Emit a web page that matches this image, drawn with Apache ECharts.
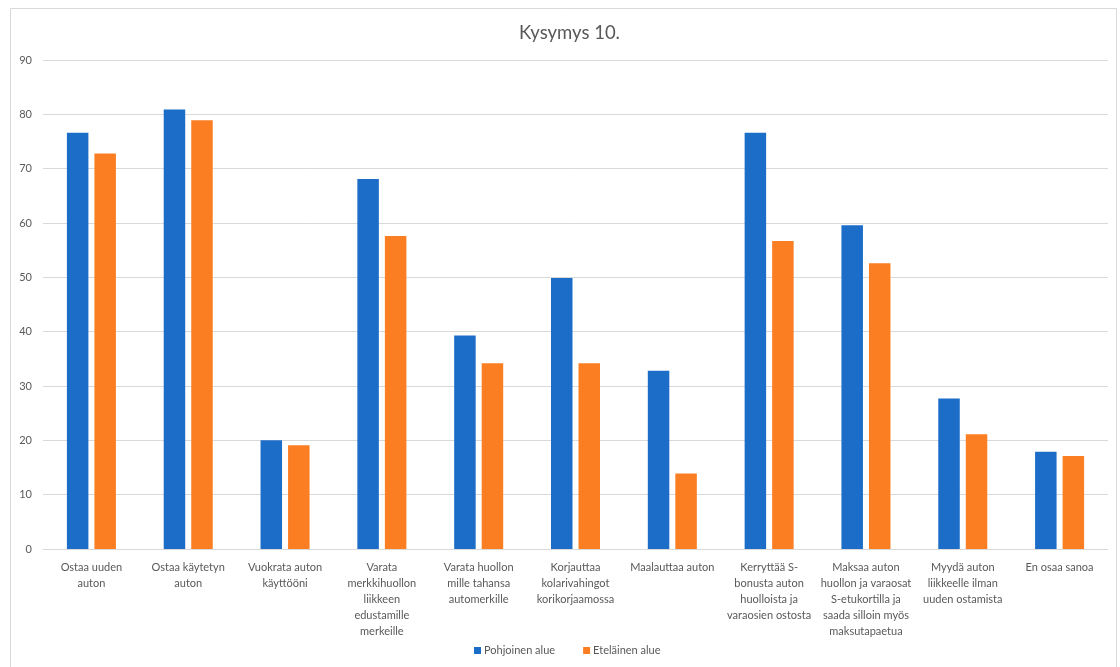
<!DOCTYPE html>
<html>
<head>
<meta charset="utf-8">
<script src="https://cdn.jsdelivr.net/npm/echarts@6/dist/echarts.min.js"></script>
<style>
  html, body { margin: 0; padding: 0; background: #ffffff; }
  #chart { width: 1120px; height: 667px; }
</style>
</head>
<body>
<div id="chart"></div>
<script>
// Answer categories (line breaks as printed under the axis)
const categories = [
  'Ostaa uuden\nauton',
  'Ostaa käytetyn\nauton',
  'Vuokrata auton\nkäyttööni',
  'Varata\nmerkkihuollon\nliikkeen\nedustamille\nmerkeille',
  'Varata huollon\nmille tahansa\nautomerkille',
  'Korjauttaa\nkolarivahingot\nkorikorjaamossa',
  'Maalauttaa auton',
  'Kerryttää S-\nbonusta auton\nhuolloista ja\nvaraosien ostosta',
  'Maksaa auton\nhuollon ja varaosat\nS-etukortilla ja\nsaada silloin myös\nmaksutapaetua',
  'Myydä auton\nliikkeelle ilman\nuuden ostamista',
  'En osaa sanoa'
];

const seriesNames = ['Pohjoinen alue', 'Eteläinen alue'];

// Share of respondents (%)
const pohjoinen = [76.6, 80.9, 20.0, 68.1, 39.3, 49.9, 32.8, 76.6, 59.6, 27.7, 17.9];
const etelainen = [72.8, 78.9, 19.1, 57.6, 34.2, 34.2, 13.9, 56.7, 52.6, 21.1, 17.1];

const yTicks = { min: 0, max: 90, interval: 10 };

const FONT = 'Lato, "Open Sans", sans-serif';
const TEXT = '#595959';
const LINE = '#d9d9d9';

const chart = echarts.init(document.getElementById('chart'), null, { renderer: 'canvas' });

chart.setOption({
  backgroundColor: '#ffffff',
  animation: false,
  color: ['#1c6dc8', '#fc7e22'],
  graphic: [{
    type: 'rect',
    shape: { x: 10.5, y: 8.5, width: 1106, height: 700 },
    style: { fill: 'none', stroke: LINE, lineWidth: 1 },
    silent: true,
    z: -1
  }],
  title: {
    text: 'Kysymys 10.',
    left: 514,
    top: 19,
    textStyle: { fontFamily: FONT, fontSize: 18.5, fontWeight: 'normal', color: TEXT }
  },
  legend: {
    data: seriesNames,
    bottom: 6,
    left: 469,
    itemWidth: 7,
    itemHeight: 7,
    itemGap: 28,
    icon: 'rect',
    textStyle: { fontFamily: FONT, fontSize: 11, color: TEXT, padding: [0, 0, 0, -2] }
  },
  grid: { left: 43, right: 12, top: 60, bottom: 118, containLabel: false },
  xAxis: {
    type: 'category',
    data: categories,
    axisLine: { show: true, lineStyle: { color: LINE } },
    axisTick: { show: false },
    axisLabel: {
      interval: 0,
      margin: 10,
      fontFamily: FONT,
      fontSize: 11,
      lineHeight: 16,
      color: TEXT,
      align: 'center'
    }
  },
  yAxis: {
    type: 'value',
    min: yTicks.min,
    max: yTicks.max,
    interval: yTicks.interval,
    axisLine: { show: false },
    axisTick: { show: false },
    splitLine: { lineStyle: { color: LINE, width: 1 } },
    axisLabel: { margin: 11, fontFamily: FONT, fontSize: 11, color: TEXT }
  },
  series: [
    { name: seriesNames[0], type: 'bar', data: pohjoinen, barWidth: 21.5, barGap: '28%' },
    { name: seriesNames[1], type: 'bar', data: etelainen, barWidth: 21.5, barGap: '28%' }
  ]
});
</script>
</body>
</html>
